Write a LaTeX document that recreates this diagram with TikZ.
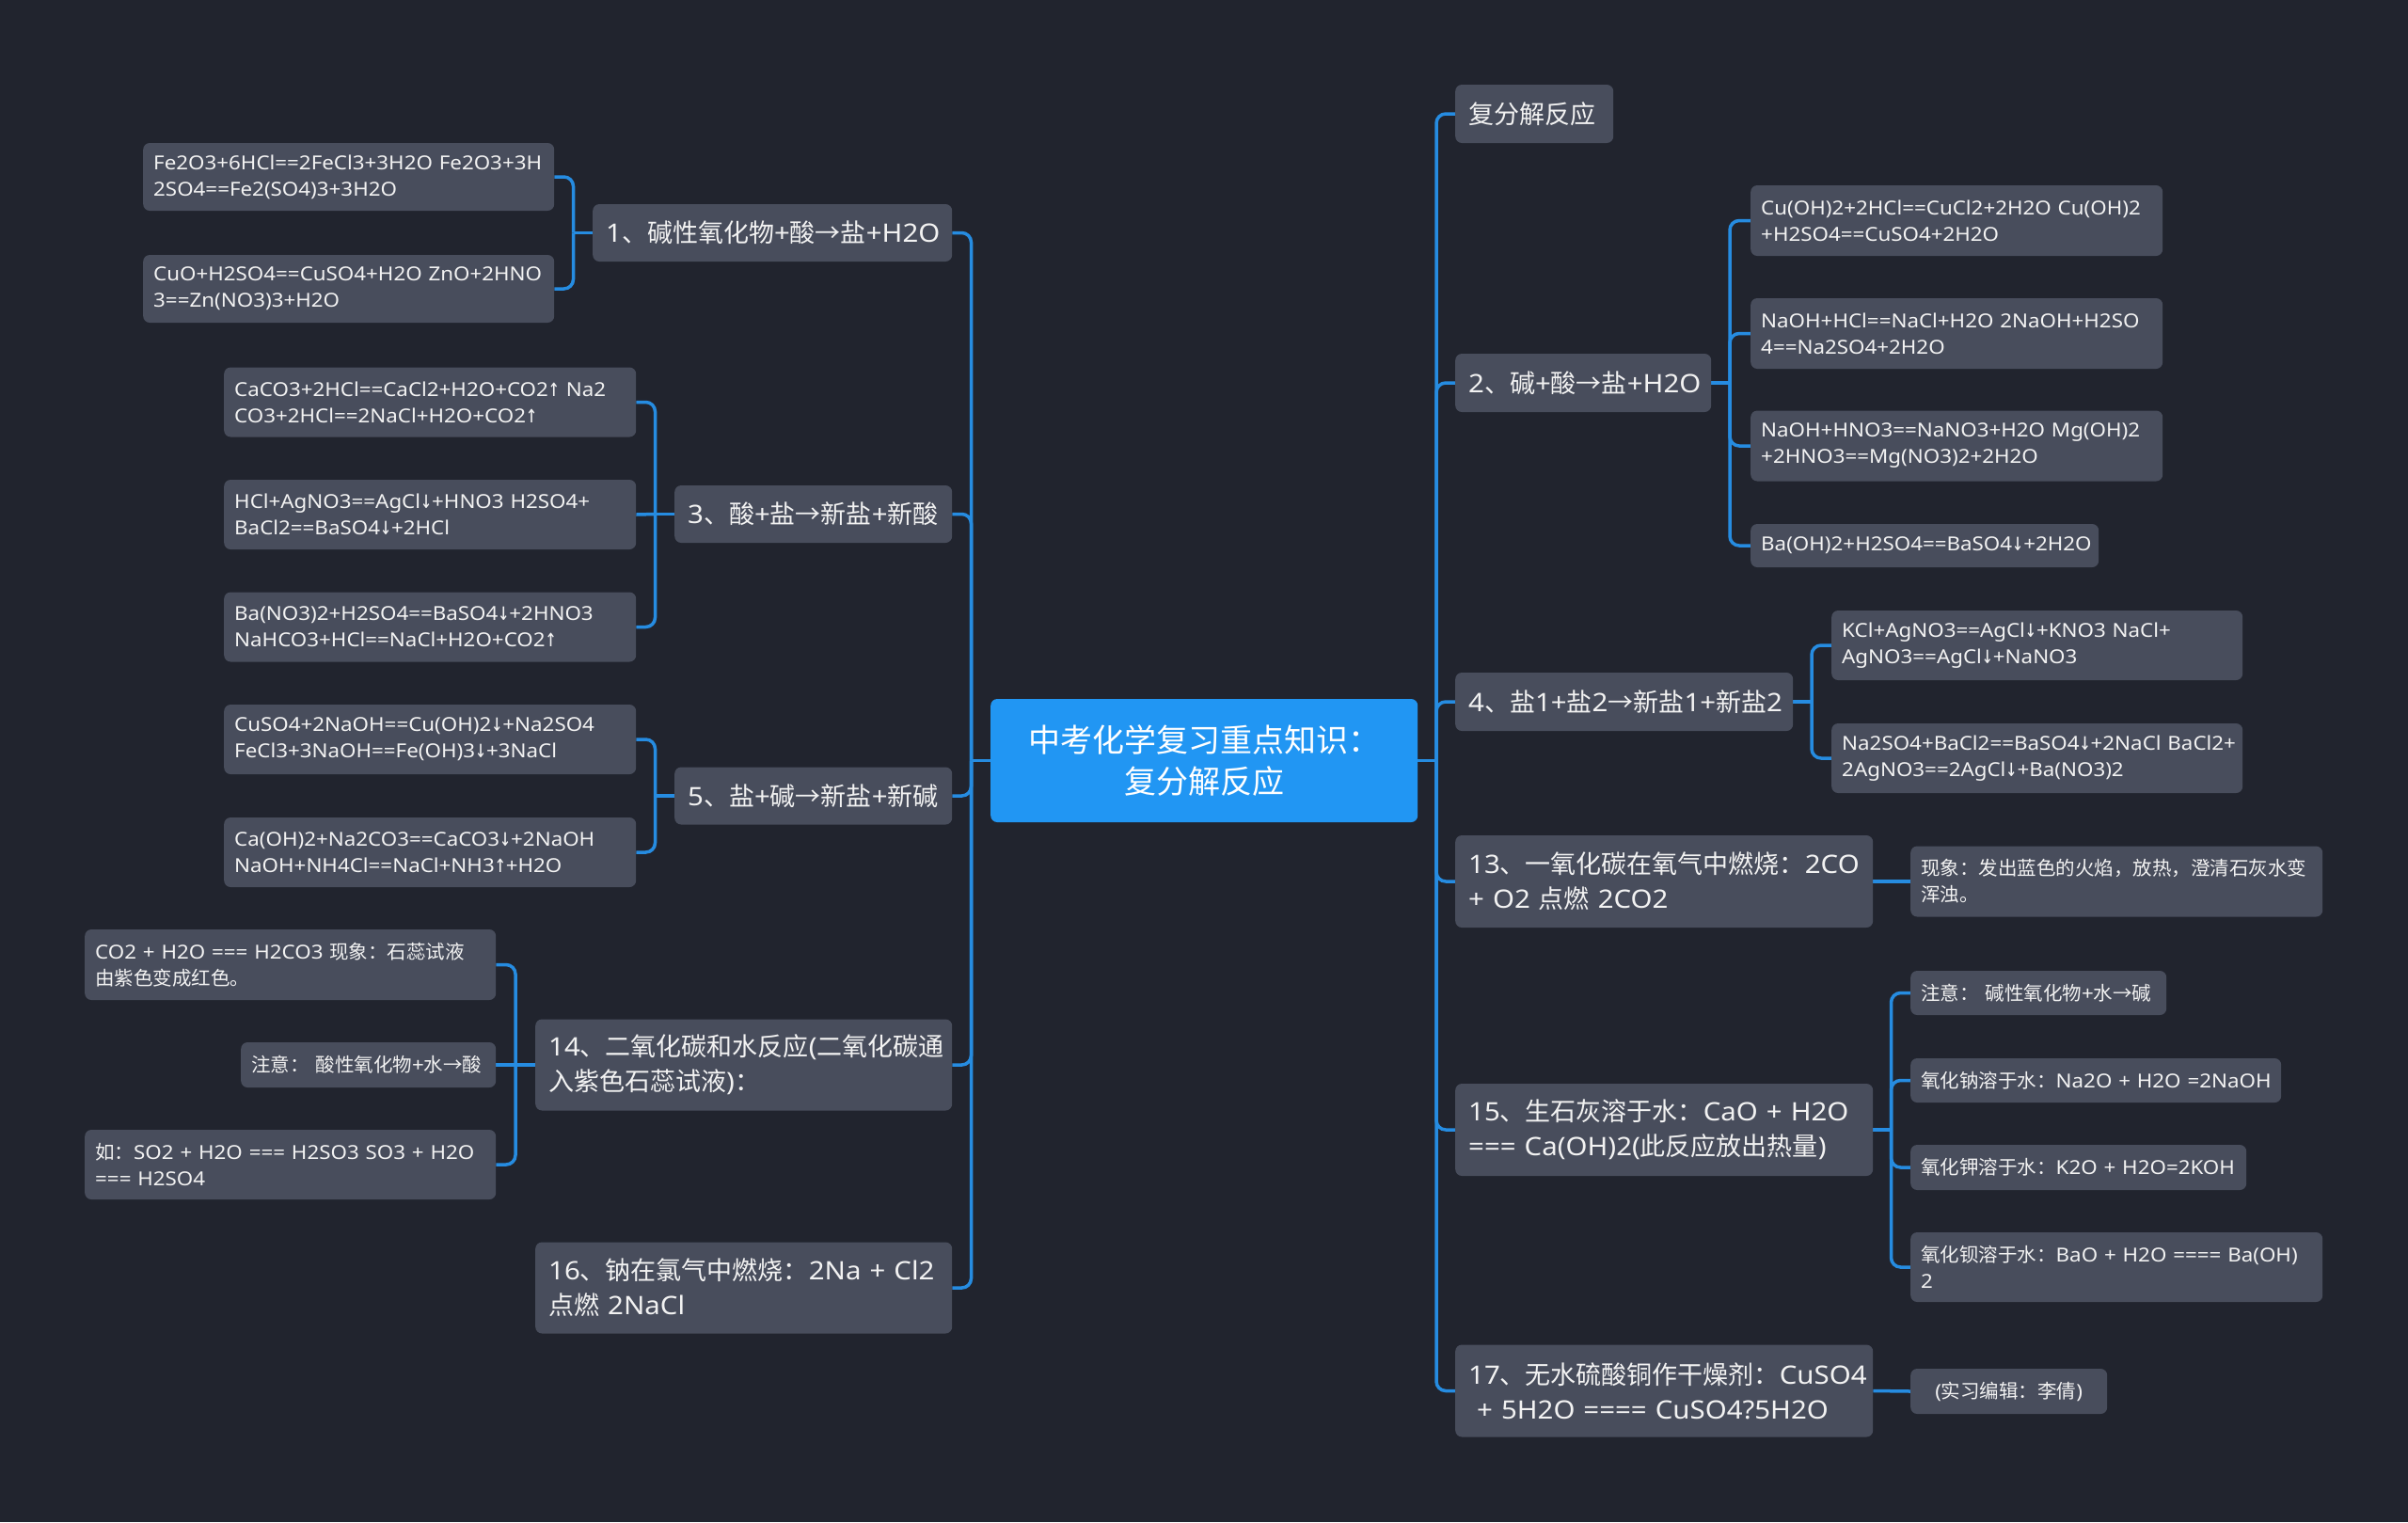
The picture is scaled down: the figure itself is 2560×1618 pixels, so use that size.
\documentclass[tikz,border=0pt]{standalone}
\usepackage{fontspec}
\setmainfont{Noto Sans}[FakeStretch=1.09]
\newfontfamily\cjkfont{Noto Sans CJK SC}
\newfontfamily\arrowfont{DejaVu Sans Mono}[Scale=1.3,FakeStretch=0.75]
\usetikzlibrary{backgrounds}
\XeTeXinterchartokenstate=1
\chardef\cjkcls=10
\chardef\arrcls=11
\newcount\cjkcnt
\def\setclassrange#1#2#3{\cjkcnt=#1\relax\loop\XeTeXcharclass\cjkcnt=#3\relax\advance\cjkcnt by 1\relax\ifnum\cjkcnt<#2\relax\repeat}
\setclassrange{"2191}{"2192}{\arrcls}
\setclassrange{"2193}{"2194}{\arrcls}
\setclassrange{"2192}{"2193}{\cjkcls}
\setclassrange{"3000}{"3040}{\cjkcls}
\setclassrange{"4E00}{"A000}{\cjkcls}
\setclassrange{"FF00}{"FFF0}{\cjkcls}
\XeTeXinterchartoks 0 \cjkcls = {\begingroup\cjkfont}
\XeTeXinterchartoks 4095 \cjkcls = {\begingroup\cjkfont}
\XeTeXinterchartoks \cjkcls 0 = {\endgroup}
\XeTeXinterchartoks \cjkcls 4095 = {\endgroup}
\XeTeXinterchartoks 0 \arrcls = {\begingroup\arrowfont}
\XeTeXinterchartoks 4095 \arrcls = {\begingroup\arrowfont}
\XeTeXinterchartoks \arrcls 0 = {\endgroup}
\XeTeXinterchartoks \arrcls 4095 = {\endgroup}
\definecolor{bgc}{RGB}{33,36,46}
\definecolor{nodefill}{RGB}{72,77,92}
\definecolor{linec}{RGB}{38,140,225}
\definecolor{centerc}{RGB}{33,150,243}
\definecolor{txtc}{RGB}{242,242,242}
\tikzset{
  box/.style={anchor=west, fill=nodefill, rounded corners=7pt, text=txtc, align=left, inner ysep=0pt},
  mainbox/.style={box, inner xsep=14pt, font=\fontsize{27}{37}\selectfont},
  subbox/.style={box, inner xsep=11pt, font=\fontsize{20.5}{28}\selectfont},
  conn/.style={draw=linec, line width=3.5pt, rounded corners=10pt},
  centerbox/.style={anchor=west, fill=centerc, rounded corners=7pt, text=white, align=center, inner xsep=0pt, inner ysep=0pt, font=\fontsize{34}{44}\selectfont}
}
\begin{document}
\begin{tikzpicture}[x=1pt,y=-1pt]
\useasboundingbox (0,0) rectangle (2560,1618);
% central
\node[centerbox, text width=454pt, minimum height=131pt] (C) at (1053,808.5) {中考化学复习重点知识：\\复分解反应};
% left main
\node[mainbox, text width=354pt, minimum height=61pt] (L1) at (630,247.5) {1、碱性氧化物+酸→盐+H2O};
\node[mainbox, text width=267pt, minimum height=61pt] (L3) at (717,546.5) {3、酸+盐→新盐+新酸};
\node[mainbox, text width=267pt, minimum height=61pt] (L5) at (717,846) {5、盐+碱→新盐+新碱};
\node[mainbox, text width=415pt, minimum height=97pt] (L14) at (569,1132) {14、二氧化碳和水反应(二氧化碳通\\入紫色石蕊试液)：};
\node[mainbox, text width=415pt, minimum height=97pt] (L16) at (569,1369) {16、钠在氯气中燃烧：2Na~+~Cl2\\点燃~2NaCl};
% left subs
\node[subbox, text width=415pt, minimum height=72pt] (L1a) at (152,188) {Fe2O3+6HCl==2FeCl3+3H2O~Fe2O3+3H\\2SO4==Fe2(SO4)3+3H2O};
\node[subbox, text width=415pt, minimum height=72pt] (L1b) at (152,307) {CuO+H2SO4==CuSO4+H2O~ZnO+2HNO\\3==Zn(NO3)3+H2O};
\node[subbox, text width=416pt, minimum height=74pt] (L3a) at (238,427.5) {CaCO3+2HCl==CaCl2+H2O+CO2↑~Na2\\CO3+2HCl==2NaCl+H2O+CO2↑};
\node[subbox, text width=416pt, minimum height=74pt] (L3b) at (238,547) {HCl+AgNO3==AgCl↓+HNO3~H2SO4+\\BaCl2==BaSO4↓+2HCl};
\node[subbox, text width=416pt, minimum height=74pt] (L3c) at (238,666.5) {Ba(NO3)2+H2SO4==BaSO4↓+2HNO3\\NaHCO3+HCl==NaCl+H2O+CO2↑};
\node[subbox, text width=416pt, minimum height=74pt] (L5a) at (238,786) {CuSO4+2NaOH==Cu(OH)2↓+Na2SO4\\FeCl3+3NaOH==Fe(OH)3↓+3NaCl};
\node[subbox, text width=416pt, minimum height=74pt] (L5b) at (238,906) {Ca(OH)2+Na2CO3==CaCO3↓+2NaOH\\NaOH+NH4Cl==NaCl+NH3↑+H2O};
\node[subbox, text width=415pt, minimum height=75pt] (L14a) at (90,1025.5) {CO2~+~H2O~===~H2CO3~现象：石蕊试液\\由紫色变成红色。};
\node[subbox, text width=249pt, minimum height=48pt] (L14b) at (256,1132) {注意：~酸性氧化物+水→酸};
\node[subbox, text width=415pt, minimum height=74pt] (L14c) at (90,1238) {如：SO2~+~H2O~===~H2SO3~SO3~+~H2O\\===~H2SO4};
% right main
\node[mainbox, text width=140pt, minimum height=62pt] (R0) at (1547,121) {复分解反应};
\node[mainbox, text width=244pt, minimum height=62pt] (R2) at (1547,407) {2、碱+酸→盐+H2O};
\node[mainbox, text width=331pt, minimum height=62pt] (R4) at (1547,746) {4、盐1+盐2→新盐1+新盐2};
\node[mainbox, text width=416pt, minimum height=98pt] (R13) at (1547,937) {13、一氧化碳在氧气中燃烧：2CO\\+~O2~点燃~2CO2};
\node[mainbox, text width=416pt, minimum height=98pt] (R15) at (1547,1201) {15、生石灰溶于水：CaO~+~H2O\\===~Ca(OH)2(此反应放出热量)};
\node[mainbox, text width=416pt, minimum height=98pt] (R17) at (1547,1478.5) {17、无水硫酸铜作干燥剂：CuSO4\\\ +~5H2O~====~CuSO4?5H2O};
% right subs
\node[subbox, text width=416pt, minimum height=75pt] (R2a) at (1861,234.5) {Cu(OH)2+2HCl==CuCl2+2H2O~Cu(OH)2\\+H2SO4==CuSO4+2H2O};
\node[subbox, text width=416pt, minimum height=75pt] (R2b) at (1861,354.5) {NaOH+HCl==NaCl+H2O~2NaOH+H2SO\\4==Na2SO4+2H2O};
\node[subbox, text width=416pt, minimum height=75pt] (R2c) at (1861,474) {NaOH+HNO3==NaNO3+H2O~Mg(OH)2\\+2HNO3==Mg(NO3)2+2H2O};
\node[subbox, text width=348pt, minimum height=46pt] (R2d) at (1861,580) {Ba(OH)2+H2SO4==BaSO4↓+2H2O};
\node[subbox, text width=415pt, minimum height=74pt] (R4a) at (1947,686) {KCl+AgNO3==AgCl↓+KNO3~NaCl+\\AgNO3==AgCl↓+NaNO3};
\node[subbox, text width=415pt, minimum height=74pt] (R4b) at (1947,806) {Na2SO4+BaCl2==BaSO4↓+2NaCl~BaCl2+\\2AgNO3==2AgCl↓+Ba(NO3)2};
\node[subbox, text width=416pt, minimum height=75pt] (R13a) at (2031,937) {现象：发出蓝色的火焰，放热，澄清石灰水变\\浑浊。};
\node[subbox, text width=250pt, minimum height=47pt] (R15a) at (2031,1055.5) {注意：~碱性氧化物+水→碱};
\node[subbox, text width=372pt, minimum height=47pt] (R15b) at (2031,1148.5) {氧化钠溶于水：Na2O~+~H2O~=2NaOH};
\node[subbox, text width=335pt, minimum height=48pt] (R15c) at (2031,1241) {氧化钾溶于水：K2O~+~H2O=2KOH};
\node[subbox, text width=416pt, minimum height=74pt] (R15d) at (2031,1347) {氧化钡溶于水：BaO~+~H2O~====~Ba(OH)\\2};
\node[subbox, align=center, text width=187pt, minimum height=48pt] (R17a) at (2031,1479) {(实习编辑：李倩)};
% junctions
\coordinate (Cl) at (1032.5,808.5);
\coordinate (Cr) at (1527,808.5);
\coordinate (L1j) at (609.5,247.5);
\coordinate (L3j) at (696.5,546.5);
\coordinate (L5j) at (696.5,846);
\coordinate (L14j) at (548,1132);
\coordinate (R2j) at (1839,407);
\coordinate (R4j) at (1926,746);
\coordinate (R15j) at (2010.5,1201);
\begin{scope}[on background layer]
\fill[bgc] (0,0) rectangle (2560,1618);
% center to trunks
\draw[conn] (C.west) -- (Cl);
\draw[conn] (C.east) -- (Cr);
\foreach \n in {L1,L3,L5,L14,L16} \draw[conn] (Cl) |- (\n.east);
\foreach \n in {R0,R2,R4,R13,R15,R17} \draw[conn] (Cr) |- (\n.west);
% left children
\draw[conn] (L1.west) -- (L1j);
\foreach \n in {L1a,L1b} \draw[conn] (L1j) |- (\n.east);
\draw[conn] (L3.west) -- (L3j);
\foreach \n in {L3a,L3c} \draw[conn] (L3j) |- (\n.east);
\draw[conn] (L3j) -- (L3b.east);
\draw[conn] (L5.west) -- (L5j);
\foreach \n in {L5a,L5b} \draw[conn] (L5j) |- (\n.east);
\draw[conn] (L14.west) -- (L14j);
\foreach \n in {L14a,L14c} \draw[conn] (L14j) |- (\n.east);
\draw[conn] (L14j) -- (L14b.east);
% right children
\draw[conn] (R2.east) -- (R2j);
\foreach \n in {R2a,R2b,R2c,R2d} \draw[conn] (R2j) |- (\n.west);
\draw[conn] (R4.east) -- (R4j);
\foreach \n in {R4a,R4b} \draw[conn] (R4j) |- (\n.west);
\draw[conn] (R13.east) -- (R13a.west);
\draw[conn] (R15.east) -- (R15j);
\foreach \n in {R15a,R15b,R15c,R15d} \draw[conn] (R15j) |- (\n.west);
\draw[conn] (R17.east) -- (R17a.west);
\end{scope}
\end{tikzpicture}
\end{document}
